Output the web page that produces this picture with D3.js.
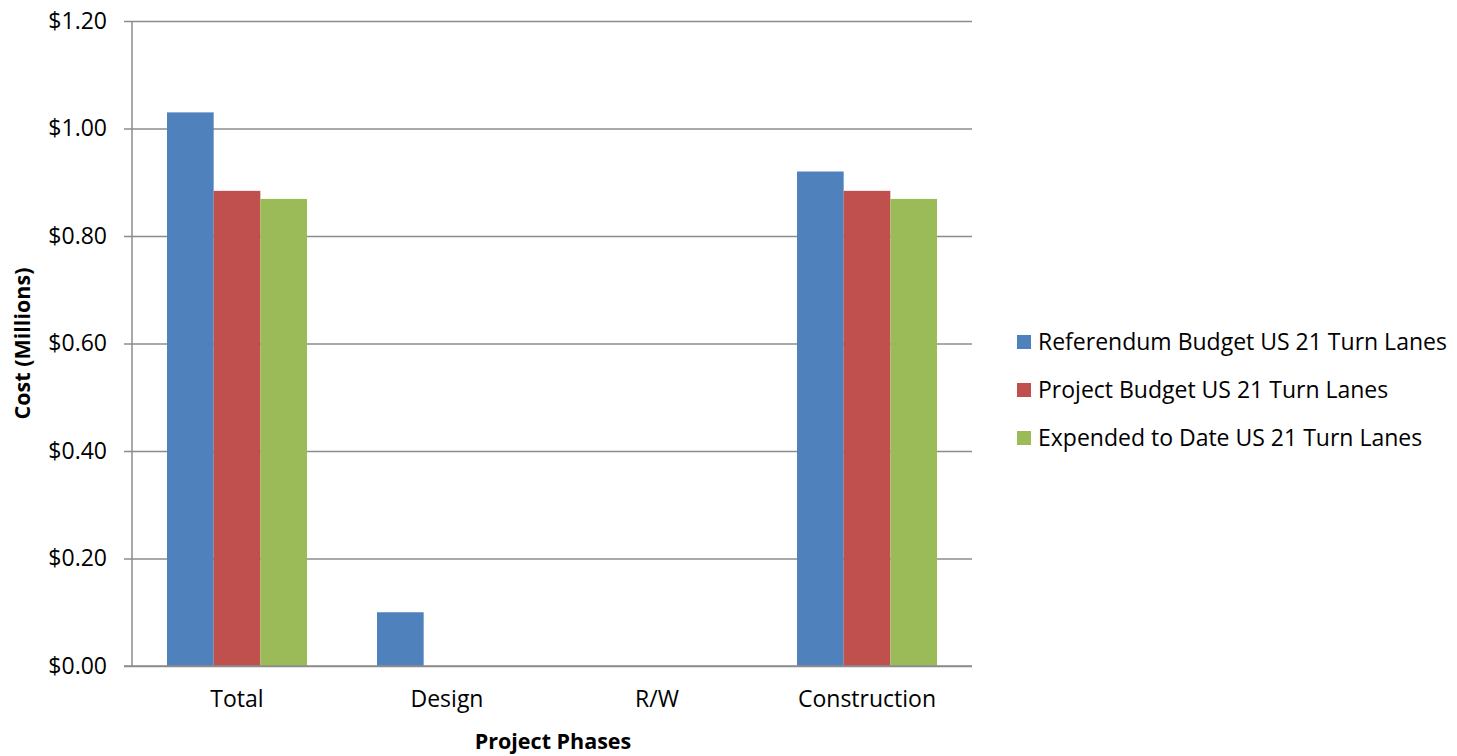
<!DOCTYPE html>
<html>
<head>
<meta charset="utf-8">
<script src="https://cdn.jsdelivr.net/npm/d3@7"></script>
<style>
  html, body { margin: 0; padding: 0; background: #fff; }
  svg { display: block; font-family: "Open Sans", "Noto Sans", sans-serif; }
</style>
</head>
<body>
<svg id="chart" width="1457" height="756"></svg>
<script>
// Project phases and cost per series, in millions of dollars
const phases = ["Total", "Design", "R/W", "Construction"];
const seriesNames = [
  "Referendum Budget US 21 Turn Lanes",
  "Project Budget US 21 Turn Lanes",
  "Expended to Date US 21 Turn Lanes"
];
const referendumBudget = [1.03, 0.10, 0, 0.92];
const projectBudget = [0.884, 0, 0, 0.884];
const expendedToDate = [0.869, 0, 0, 0.869];
const yTicks = [0, 0.2, 0.4, 0.6, 0.8, 1.0, 1.2];
const seriesColors = ["#4F81BD", "#C0504D", "#9BBB59"];

const seriesValues = [referendumBudget, projectBudget, expendedToDate];

const svg = d3.select("#chart");
const plot = { left: 132, right: 972, top: 21, bottom: 666 };
const labelSize = 23;

const x = d3.scaleBand()
  .domain(phases)
  .range([plot.left, plot.right])
  .paddingInner(1 / 3)
  .paddingOuter(1 / 6);

const xSeries = d3.scaleBand()
  .domain(d3.range(seriesNames.length))
  .range([0, x.bandwidth()]);

const y = d3.scaleLinear()
  .domain([0, 1.2])
  .range([plot.bottom, plot.top]);

const fmt = d => "$" + d3.format(".2f")(d);

// Horizontal gridlines with left tick stubs
const yAxis = d3.axisLeft(y)
  .tickValues(yTicks)
  .tickFormat(fmt)
  .tickSize(-(plot.right - plot.left))
  .tickPadding(25);

const gy = svg.append("g")
  .attr("transform", `translate(${plot.left},0)`)
  .call(yAxis);
gy.select(".domain").remove();
gy.selectAll(".tick line")
  .attr("x1", -8)
  .attr("stroke", "#8c8c8c")
  .attr("stroke-width", 1.5);
gy.selectAll(".tick text")
  .attr("font-size", labelSize)
  .attr("fill", "#000")
  .attr("font-family", "'Open Sans', sans-serif");

// Vertical axis line
svg.append("line")
  .attr("x1", plot.left).attr("x2", plot.left)
  .attr("y1", plot.top).attr("y2", plot.bottom)
  .attr("stroke", "#8c8c8c")
  .attr("stroke-width", 1.5);

// Bars
const groups = svg.append("g")
  .selectAll("g")
  .data(seriesValues)
  .join("g")
  .attr("fill", (d, i) => seriesColors[i]);

groups.each(function (vals, si) {
  d3.select(this).selectAll("rect")
    .data(vals.map((v, pi) => ({ phase: phases[pi], value: v })))
    .join("rect")
    .attr("x", d => x(d.phase) + xSeries(si))
    .attr("width", xSeries.bandwidth())
    .attr("y", d => y(d.value))
    .attr("height", d => y(0) - y(d.value));
});

// Baseline drawn over bar bottoms
svg.append("line")
  .attr("x1", plot.left - 8).attr("x2", plot.right)
  .attr("y1", y(0)).attr("y2", y(0))
  .attr("stroke", "#8c8c8c")
  .attr("stroke-width", 1.5);

// Category labels
const xAxis = d3.axisBottom(x).tickSize(0).tickPadding(25);
const gx = svg.append("g")
  .attr("transform", `translate(0,${plot.bottom})`)
  .call(xAxis);
gx.select(".domain").remove();
gx.selectAll(".tick text")
  .attr("font-size", labelSize)
  .attr("fill", "#000")
  .attr("font-family", "'Open Sans', sans-serif");

// Axis titles
svg.append("text")
  .attr("x", (plot.left + plot.right) / 2 + 1)
  .attr("y", 749)
  .attr("text-anchor", "middle")
  .attr("font-size", 21.5)
  .attr("font-weight", "bold")
  .text("Project Phases");

svg.append("text")
  .attr("transform", `translate(30,${(plot.top + plot.bottom) / 2}) rotate(-90)`)
  .attr("text-anchor", "middle")
  .attr("font-size", 21.5)
  .attr("font-weight", "bold")
  .text("Cost (Millions)");

// Legend
const legend = svg.append("g")
  .attr("transform", "translate(1017,342)")
  .selectAll("g")
  .data(seriesNames)
  .join("g")
  .attr("transform", (d, i) => `translate(0,${i * 48})`);

legend.append("rect")
  .attr("x", 0).attr("y", -7)
  .attr("width", 14).attr("height", 14)
  .attr("fill", (d, i) => seriesColors[i]);

legend.append("text")
  .attr("x", 21)
  .attr("y", 0)
  .attr("dy", "0.35em")
  .attr("font-size", labelSize)
  .attr("fill", "#000")
  .text(d => d);
</script>
</body>
</html>
